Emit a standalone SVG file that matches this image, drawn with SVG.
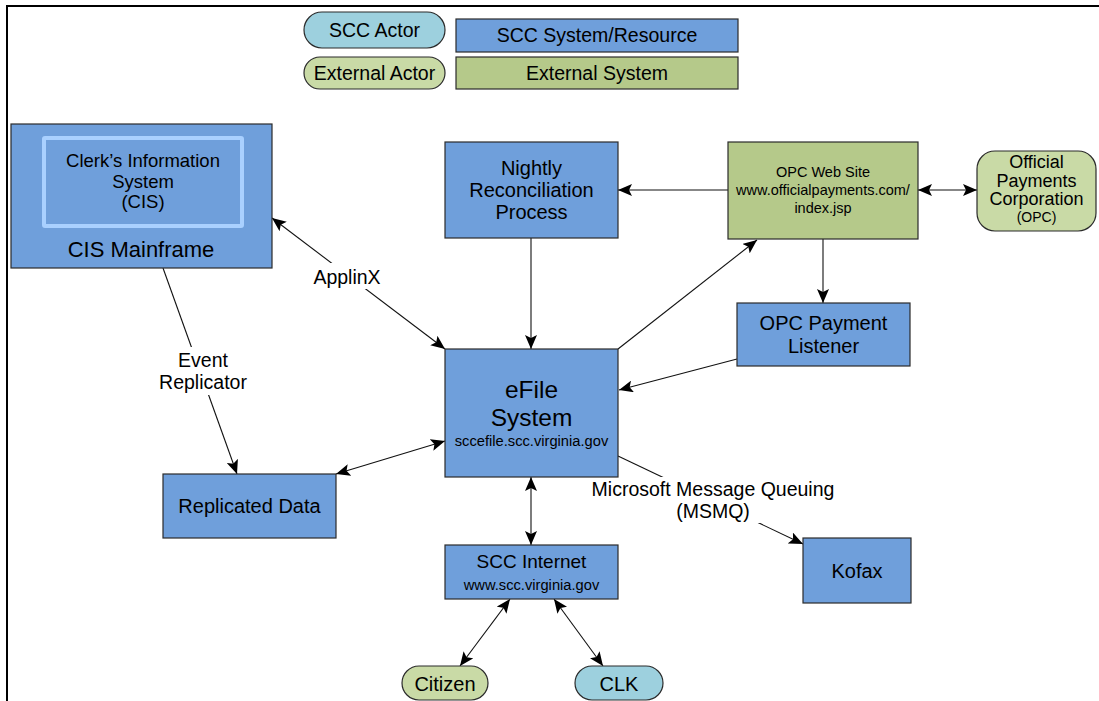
<svg xmlns="http://www.w3.org/2000/svg" width="1099" height="701" viewBox="0 0 1099 701">
  <style>
    text { font-family: "Liberation Sans", Arial, sans-serif; fill: #000; text-anchor: middle; }
    .sys { fill: #6f9fdb; stroke: #2b2b2b; stroke-width: 1.2; }
    .ext { fill: #b5c98a; stroke: #2b2b2b; stroke-width: 1.2; }
    .sccActor { fill: #9dd0de; stroke: #2b2b2b; stroke-width: 1.2; }
    .extActor { fill: #c9daa6; stroke: #2b2b2b; stroke-width: 1.2; }
    .conn { fill: none; stroke: #111; stroke-width: 1.1; }
    .lblbg { fill: #fff; }
  </style>
  <defs>
    <marker id="arrow" viewBox="0 0 14 12" refX="14" refY="6" markerWidth="14" markerHeight="12" markerUnits="userSpaceOnUse" orient="auto-start-reverse">
      <path d="M0,0 L14,6 L0,12 L3,6 Z" fill="#000"/>
    </marker>
  </defs>

  <rect x="0" y="0" width="1099" height="701" fill="#fff"/>
  <!-- page frame -->
  <path d="M7,701 V6 H1099" fill="none" stroke="#000" stroke-width="2"/>

  <!-- legend -->
  <g id="legend">
    <rect class="sccActor" x="304" y="12" width="141" height="36" rx="18"/>
    <text x="374.5" y="37" font-size="19.5">SCC Actor</text>
    <rect class="sys" x="456" y="19" width="282" height="33"/>
    <text x="597" y="42" font-size="19.5">SCC System/Resource</text>
    <rect class="extActor" x="304" y="57" width="141" height="32" rx="16"/>
    <text x="374.5" y="80" font-size="19.5">External Actor</text>
    <rect class="ext" x="456" y="57" width="282" height="32"/>
    <text x="597" y="80" font-size="19.5">External System</text>
  </g>

  <!-- connectors -->
  <g id="connectors">
    <line class="conn" x1="272" y1="218" x2="445" y2="349" marker-start="url(#arrow)" marker-end="url(#arrow)"/>
    <line class="conn" x1="163" y1="268" x2="237" y2="474" marker-end="url(#arrow)"/>
    <line class="conn" x1="728" y1="190" x2="618" y2="190" marker-end="url(#arrow)"/>
    <line class="conn" x1="531" y1="238" x2="531" y2="349" marker-end="url(#arrow)"/>
    <line class="conn" x1="618" y1="349" x2="757" y2="240" marker-end="url(#arrow)"/>
    <line class="conn" x1="918" y1="190" x2="977" y2="190" marker-start="url(#arrow)" marker-end="url(#arrow)"/>
    <line class="conn" x1="823" y1="239" x2="823" y2="303" marker-end="url(#arrow)"/>
    <line class="conn" x1="737" y1="359" x2="619" y2="390" marker-end="url(#arrow)"/>
    <line class="conn" x1="445" y1="441" x2="336" y2="474" marker-start="url(#arrow)" marker-end="url(#arrow)"/>
    <line class="conn" x1="618" y1="456" x2="803" y2="544" marker-end="url(#arrow)"/>
    <line class="conn" x1="531" y1="477" x2="531" y2="545" marker-start="url(#arrow)" marker-end="url(#arrow)"/>
    <line class="conn" x1="510" y1="599" x2="460" y2="666" marker-start="url(#arrow)" marker-end="url(#arrow)"/>
    <line class="conn" x1="554" y1="599" x2="603" y2="666" marker-start="url(#arrow)" marker-end="url(#arrow)"/>

    <!-- connector labels -->
    <rect class="lblbg" x="312" y="263" width="70" height="26"/>
    <text x="347" y="284" font-size="19.5">ApplinX</text>
    <rect class="lblbg" x="155" y="347" width="96" height="48"/>
    <text x="203" y="367" font-size="19.5">Event</text>
    <text x="203" y="389" font-size="19.5">Replicator</text>
    <rect class="lblbg" x="588" y="477" width="250" height="46"/>
    <text x="713" y="496" font-size="19.5">Microsoft Message Queuing</text>
    <text x="713" y="518" font-size="19.5">(MSMQ)</text>
  </g>

  <g id="cis-mainframe">
    <rect class="sys" x="11" y="124" width="261" height="144"/>
    <rect x="44" y="138" width="198" height="88" fill="#6f9fdb" stroke="#a9d0ff" stroke-width="4" rx="1"/>
    <text x="143" y="167" font-size="18.5">Clerk’s Information</text>
    <text x="143" y="188" font-size="18.5">System</text>
    <text x="143" y="208" font-size="18.5">(CIS)</text>
    <text x="141" y="257" font-size="22">CIS Mainframe</text>
  </g>

  <g id="nightly-reconciliation">
    <rect class="sys" x="445" y="142" width="173" height="96"/>
    <text x="531.5" y="175" font-size="20">Nightly</text>
    <text x="531.5" y="197" font-size="20">Reconciliation</text>
    <text x="531.5" y="219" font-size="20">Process</text>
  </g>

  <g id="opc-web-site">
    <rect class="ext" x="728" y="142" width="190" height="97"/>
    <text x="823" y="177" font-size="14.5">OPC Web Site</text>
    <text x="823" y="195" font-size="14.5">www.officialpayments.com/</text>
    <text x="823" y="213" font-size="14.5">index.jsp</text>
  </g>

  <g id="opc-corporation">
    <rect class="extActor" x="977" y="151" width="119" height="80" rx="18"/>
    <text x="1036.5" y="168" font-size="18">Official</text>
    <text x="1036.5" y="187" font-size="18">Payments</text>
    <text x="1036.5" y="205" font-size="18">Corporation</text>
    <text x="1036.5" y="222" font-size="14">(OPC)</text>
  </g>

  <g id="opc-payment-listener">
    <rect class="sys" x="737" y="303" width="173" height="63"/>
    <text x="823.5" y="330" font-size="20">OPC Payment</text>
    <text x="823.5" y="353" font-size="20">Listener</text>
  </g>

  <g id="efile-system">
    <rect class="sys" x="445" y="349" width="173" height="128"/>
    <text x="531.5" y="398" font-size="24.5">eFile</text>
    <text x="531.5" y="426" font-size="24.5">System</text>
    <text x="531.5" y="446" font-size="14.7">sccefile.scc.virginia.gov</text>
  </g>

  <g id="replicated-data">
    <rect class="sys" x="163" y="474" width="173" height="64"/>
    <text x="249.5" y="513" font-size="20">Replicated Data</text>
  </g>

  <g id="scc-internet">
    <rect class="sys" x="445" y="545" width="173" height="54"/>
    <text x="531.5" y="568" font-size="19">SCC Internet</text>
    <text x="531.5" y="590" font-size="14.7">www.scc.virginia.gov</text>
  </g>

  <g id="kofax">
    <rect class="sys" x="803" y="538" width="108" height="65"/>
    <text x="857" y="578" font-size="20">Kofax</text>
  </g>

  <g id="citizen">
    <rect class="extActor" x="402" y="666" width="86" height="34" rx="17"/>
    <text x="445" y="691" font-size="20">Citizen</text>
  </g>

  <g id="clk">
    <rect class="sccActor" x="575" y="666" width="88" height="34" rx="17"/>
    <text x="619" y="691" font-size="20">CLK</text>
  </g>
</svg>
